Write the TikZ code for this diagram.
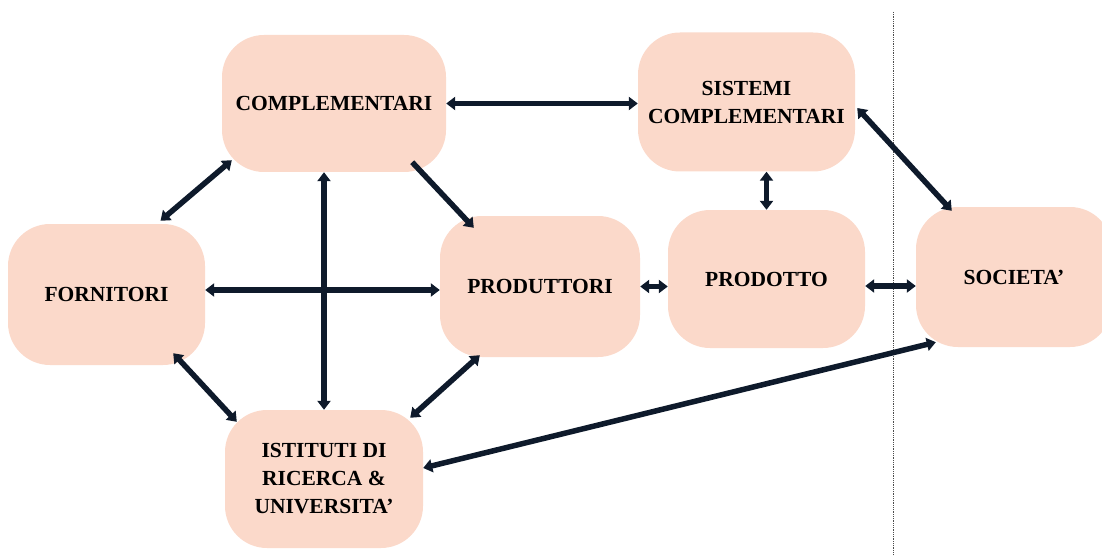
\documentclass[tikz,border=0pt]{standalone}
\usepackage{fontspec}
\setmainfont{Liberation Serif}
\usetikzlibrary{positioning,arrows.meta,calc}
\definecolor{blobpink}{HTML}{FBD9CA}
\definecolor{arrownavy}{HTML}{0E1A2B}
\begin{document}
\begin{tikzpicture}[x=1pt, y=-1pt, font=\fontsize{21.5}{28}\selectfont\bfseries,
  blob/.style={fill=blobpink, rounded corners=42pt, align=center, inner sep=0pt},
  link/.style={draw=arrownavy, line width=5.5pt, {Triangle[length=9pt,width=13pt]}-{Triangle[length=9pt,width=13pt]}},
  onelink/.style={draw=arrownavy, line width=5.5pt, -{Triangle[length=9pt,width=13pt]}}]
\useasboundingbox (0,0) rectangle (1102,556);
\node[blob, minimum width=224pt, minimum height=137pt] (comp) at (334,103.5) {COMPLEMENTARI};
\node[blob, minimum width=217pt, minimum height=139pt] (sist) at (746.5,102) {SISTEMI\\COMPLEMENTARI};
\node[blob, minimum width=197pt, minimum height=141pt] (forn) at (106.5,294.5) {FORNITORI};
\node[blob, minimum width=200pt, minimum height=141pt] (prodr) at (540,286.5) {PRODUTTORI};
\node[blob, minimum width=197pt, minimum height=138pt] (prodo) at (766.5,279) {PRODOTTO};
\node[blob, minimum width=196pt, minimum height=140pt] (soc) at (1014,277) {SOCIETA’};
\node[blob, minimum width=198pt, minimum height=138pt] (ist) at (324,479) {ISTITUTI DI\\RICERCA \&\\UNIVERSITA’};
\draw[densely dotted, line width=0.8pt, black!70] (893,12) -- (893,556);
\draw[link] (comp.east) -- (comp.east -| sist.west);
\draw[link] ([shift={(54,-3)}]forn.north) -- ([shift={(10,-12)}]comp.south west);
\draw[link] (ist.north |- comp.south) -- (ist.north);
\draw[onelink] ([shift={(-34,-10)}]comp.south east) -- ([shift={(34,12)}]prodr.north west);
\draw[link] ([shift={(0,-4.5)}]forn.east) -- ([shift={(0,3.5)}]prodr.west);
\draw[link] ([shift={(-32,-12)}]forn.south east) -- ([shift={(12,12)}]ist.north west);
\draw[link] ([shift={(40,-2)}]prodr.south west) -- ([shift={(-13,8)}]ist.north east);
\draw[link] (prodr.east) -- (prodr.east -| prodo.west);
\draw[link] (prodo.north) -- (prodo.north |- sist.south);
\draw[link] ([shift={(0,7)}]prodo.east) -- ([shift={(0,9)}]soc.west);
\draw[link] ([shift={(2,6)}]sist.east) -- ([shift={(36,4)}]soc.north west);
\draw[link] ([shift={(20,-5)}]soc.south west) -- ([shift={(0,-11)}]ist.east);
\end{tikzpicture}
\end{document}
